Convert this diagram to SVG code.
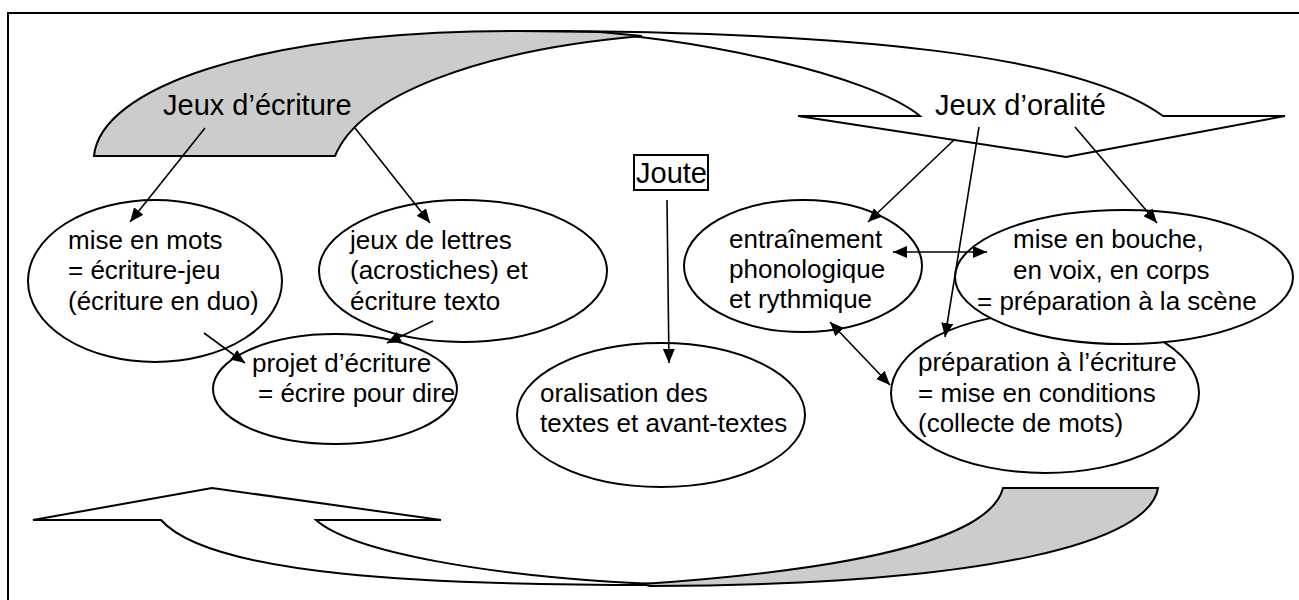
<svg xmlns="http://www.w3.org/2000/svg" width="1299" height="600" viewBox="0 0 1299 600">
<style>
.t{font-family:"Liberation Sans",Arial,sans-serif;font-size:26px;fill:#000}
.h{font-size:29px}
.shape{stroke:#000;stroke-width:2;stroke-linejoin:miter}
.white{fill:#fff}
.gray{fill:#ccc}
.node ellipse{fill:#fff;stroke:#000;stroke-width:2}
#connectors line{stroke:#000;stroke-width:1.6;marker-end:url(#ah)}
#connectors line.both{marker-start:url(#ah)}
</style>
<defs>
<marker id="ah" viewBox="0 0 14 12" refX="14" refY="6" markerWidth="14" markerHeight="12" markerUnits="userSpaceOnUse" orient="auto-start-reverse">
<path d="M0,0 L14,6 L0,12 Z" fill="#000"/>
</marker>
</defs>
<rect x="8" y="13" width="1400" height="700" fill="#fff" stroke="#000" stroke-width="2"/>
<g id="arrow-top">
<path class="shape white" d="M520,31 C850,31 1080,55 1163,116 L1285,116 L1066,157 L798,116 L920,116 C870,75 700,38 570,31 Z"/>
<path class="shape gray" d="M94,156 C100,90 250,31 520,31 L600,32 L642,36 C480,50 360,95 335,156 Z"/>
</g>
<g id="arrow-bottom">
<path class="shape white" d="M33,520 L212,488 L441,520 L316,520 C350,550 480,578 680,585 C420,586 210,575 161,520 Z"/>
<path class="shape gray" d="M1003,488 L1158,488 C1150,540 1000,585 650,586 L642,584 C850,570 990,540 1003,488 Z"/>
</g>
<g id="jeux-ecriture" class="node"><text class="t h" x="163" y="115">Jeux d’écriture</text></g>
<g id="jeux-oralite" class="node"><text class="t h" x="935" y="115">Jeux d’oralité</text></g>
<g id="joute" class="node">
<rect x="634" y="155" width="74" height="35" fill="#fff" stroke="#000" stroke-width="2"/>
<text class="t h" x="636" y="183">Joute</text>
</g>
<g id="mise-en-mots" class="node">
<ellipse cx="155" cy="281" rx="127" ry="81"/>
<text class="t" x="68" y="249">mise en mots</text>
<text class="t" x="68" y="279">= écriture-jeu</text>
<text class="t" x="68" y="310">(écriture en duo)</text>
</g>
<g id="jeux-de-lettres" class="node">
<ellipse cx="463" cy="271" rx="144" ry="71"/>
<text class="t" x="350" y="249">jeux de lettres</text>
<text class="t" x="350" y="279">(acrostiches) et</text>
<text class="t" x="350" y="310">écriture texto</text>
</g>
<g id="projet" class="node">
<ellipse cx="335" cy="389" rx="122" ry="55"/>
<text class="t" x="252" y="372">projet d’écriture</text>
<text class="t" x="258" y="402">= écrire pour dire</text>
</g>
<g id="entrainement" class="node">
<ellipse cx="803" cy="266" rx="119" ry="66"/>
<text class="t" x="729" y="248">entraînement</text>
<text class="t" x="729" y="278">phonologique</text>
<text class="t" x="729" y="308">et rythmique</text>
</g>
<g id="preparation-ecriture" class="node">
<ellipse cx="1045" cy="393" rx="154" ry="80"/>
<text class="t" x="918" y="371">préparation à l’écriture</text>
<text class="t" x="918" y="402">= mise en conditions</text>
<text class="t" x="918" y="432">(collecte de mots)</text>
</g>
<g id="mise-en-bouche" class="node">
<ellipse cx="1124" cy="277" rx="169" ry="67"/>
<text class="t" x="1013" y="248">mise en bouche,</text>
<text class="t" x="1013" y="279">en voix, en corps</text>
<text class="t" x="977" y="310">= préparation à la scène</text>
</g>
<g id="oralisation" class="node">
<ellipse cx="661" cy="415" rx="144" ry="72"/>
<text class="t" x="540" y="402">oralisation des</text>
<text class="t" x="540" y="432">textes et avant-textes</text>
</g>
<g id="connectors">
<line x1="205" y1="128" x2="130" y2="222"/>
<line x1="355" y1="128" x2="430" y2="223"/>
<line x1="204" y1="333" x2="245" y2="363"/>
<line x1="433" y1="321" x2="387" y2="343"/>
<line x1="667" y1="200" x2="669" y2="363"/>
<line x1="955" y1="139" x2="868" y2="222"/>
<line x1="979" y1="127" x2="945" y2="337"/>
<line x1="1075" y1="127" x2="1157" y2="223"/>
<line class="both" x1="893" y1="252" x2="987" y2="252"/>
<line class="both" x1="830" y1="322" x2="890" y2="385"/>
</g>
</svg>
